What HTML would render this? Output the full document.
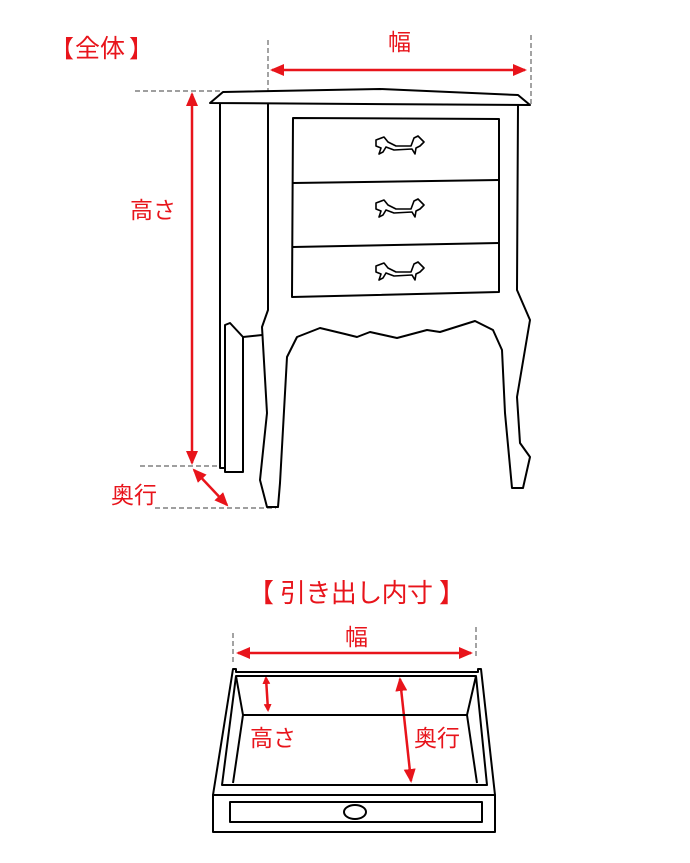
<!DOCTYPE html>
<html><head><meta charset="utf-8"><style>
body{margin:0;background:#fff}
svg{display:block}
text{font-family:"Liberation Sans","Noto Sans CJK JP",sans-serif;fill:#e8141b}
</style></head><body>
<svg width="690" height="863" viewBox="0 0 690 863" xmlns="http://www.w3.org/2000/svg">
<defs>
<marker id="a" markerWidth="8" markerHeight="8" refX="6" refY="4" orient="auto-start-reverse" markerUnits="userSpaceOnUse"><path d="M0,0 L8,4 L0,8 z" fill="#e8141b"/></marker>
<marker id="b" markerWidth="14" markerHeight="12" refX="12" refY="6" orient="auto-start-reverse" markerUnits="userSpaceOnUse"><path d="M0,0 L14,6 L0,12 z" fill="#e8141b"/></marker>
</defs>
<g fill="none" stroke="#666" stroke-width="1.2" stroke-dasharray="5,3">
<line x1="135" y1="91" x2="222" y2="91"/>
<line x1="140" y1="466" x2="220" y2="466"/>
<line x1="155" y1="508" x2="276" y2="508"/>
<line x1="268" y1="40" x2="268" y2="104"/>
<line x1="531" y1="35" x2="531" y2="104"/>
<line x1="233" y1="633" x2="233" y2="662"/>
<line x1="476" y1="627" x2="476" y2="656"/>
</g>
<g fill="#fff" stroke="#000" stroke-width="2" stroke-linejoin="round">
<path d="M220,103 L220,468 L225,468 L225,325"/>
<path d="M225,325 L230,323 L243,337 L243,472 L225,472 Z"/>
<line x1="243" y1="337" x2="262" y2="335"/>
<path d="M268,103 L268,310 L262,327 L267,413 L260,480 L267,507 L278,507 L280,483 L287,357 L297,337 L320,328 L345,334 L357,337 L370,332 L397,338 L427,330 L440,332 L475,321 L493,330 L502,350 L505,413 L512,488 L523,488 L530,457 L520,443 L517,397 L530,320 L517,290 L518,105"/>
<path d="M210,103 L223,92 L380,89 L518,95 L530,105 Z"/>
<path d="M293,118 L499,119 L499,292 L292,297 Z"/>
<line x1="293" y1="183" x2="499" y2="180"/>
<line x1="293" y1="247" x2="499" y2="243"/>
</g>
<g fill="#fff" stroke="#000" stroke-width="1.6" stroke-linejoin="round">
<g id="h"><path d="M376,140 L384,137 L388,142 L396,146 L411,146 L414,138 L418,136 L424,142 L420,146 L416,148 L415,154 L412,149 L394,150 L386,147 L383,152 L379,154 L381,148 L376,146 Z"/></g>
<use href="#h" y="63"/><use href="#h" y="126"/>
</g>
<g stroke="#e8141b" stroke-width="2.5" fill="none">
<line x1="192" y1="94" x2="192" y2="463" marker-start="url(#b)" marker-end="url(#b)"/>
<line x1="194" y1="470" x2="227" y2="505" marker-start="url(#b)" marker-end="url(#b)"/>
<line x1="272" y1="70" x2="525" y2="70" marker-start="url(#b)" marker-end="url(#b)"/>
<line x1="238" y1="653" x2="471" y2="653" marker-start="url(#b)" marker-end="url(#b)"/>
<line x1="266" y1="678" x2="268" y2="710" marker-start="url(#a)" marker-end="url(#a)"/>
<line x1="400" y1="679" x2="411" y2="781" marker-start="url(#b)" marker-end="url(#b)"/>
</g>
<g fill="none" stroke="#000" stroke-width="2" stroke-linejoin="round">
<path d="M233,669 L236,669 L236,672 L478,672 L478,669 L481,669 L495,795 L213,795 Z"/>
<rect x="213" y="795" width="282" height="37"/>
<rect x="230" y="802" width="252" height="20"/>
<ellipse cx="355" cy="812" rx="11" ry="7"/>
<path d="M236,676 L476,676 L487,785 L222,785 Z"/>
<path d="M243,715 L467,715 L477,783 M243,715 L233,783 M236,676 L243,715 M476,676 L467,715"/>
</g>
<g font-size="23">
<text x="50" y="57" font-size="24">【</text>
<text x="75" y="57" font-size="25">全体</text>
<text x="129" y="57" font-size="24">】</text>
<text x="388" y="50">幅</text>
<text x="130" y="218">高さ</text>
<text x="111" y="503">奥行</text>
<text x="248" y="602" font-size="26" textLength="217" lengthAdjust="spacing">【 引き出し内寸 】</text>
<text x="345" y="645">幅</text>
<text x="250" y="746">高さ</text>
<text x="414" y="746">奥行</text>
</g>
</svg>
</body></html>
